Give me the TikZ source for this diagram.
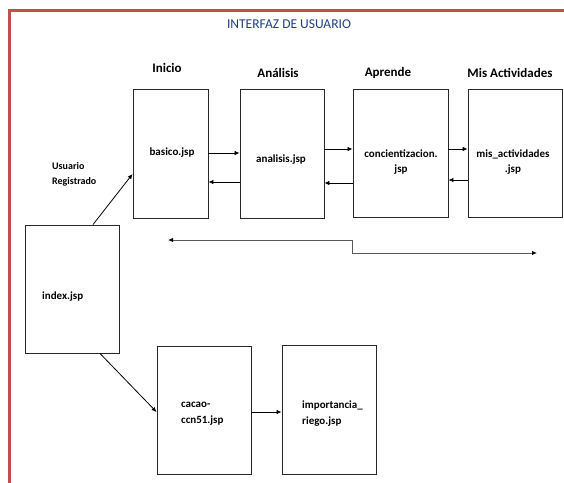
\documentclass[tikz,border=0pt]{standalone}
\usepackage{fontspec}
\setmainfont{Carlito}
\usetikzlibrary{arrows.meta}
\definecolor{frame}{RGB}{192,80,77}
\definecolor{titleblue}{RGB}{34,62,130}
\definecolor{boxline}{RGB}{40,40,40}
\tikzset{
  page/.style={x=1pt,y=-1pt},
  pagebox/.style={draw=boxline,line width=0.9pt,rectangle,inner sep=0pt},
  boxtext/.style={font=\fontsize{11}{15}\selectfont\bfseries,align=center,inner sep=0pt},
  boxtextl/.style={font=\fontsize{11}{16}\selectfont\bfseries,align=left,anchor=west,inner sep=0pt},
  head/.style={font=\fontsize{13}{15}\selectfont\bfseries,inner sep=0pt},
  link/.style={line width=0.8pt,-{Latex[length=5pt,width=4.5pt]}},
  backlink/.style={line width=1pt,draw=black!65,{Latex[length=5pt,width=4.5pt,color=black]}-{Latex[length=5pt,width=4.5pt,color=black]}}
}
\newcommand{\pbox}[5]{\node[pagebox,minimum width=#4pt,minimum height=#5pt] (#1) at (#2,#3) {};}
\begin{document}
\begin{tikzpicture}[page]
\useasboundingbox (0,0) rectangle (564,482);
% frame
\draw[frame,line width=3pt] (9,483) -- (9,10.5) -- (565,10.5);
\node[font=\fontsize{13.5}{15}\selectfont,text=titleblue,inner sep=0pt] (title) at (289,24) {INTERFAZ DE USUARIO};
% headings
\node[head] (hinicio) at (167,68) {Inicio};
\node[head] (hanalisis) at (278,73) {Análisis};
\node[head] (haprende) at (388,73) {Aprende};
\node[head] (hmis) at (510,73) {Mis Actividades};
% boxes
\pbox{basico}{170.5}{153.5}{75}{129}
\pbox{analisis}{282}{153.5}{84}{129}
\pbox{conc}{400.5}{153}{95}{128}
\pbox{mis}{515}{153}{94}{128}
\pbox{index}{72}{289}{94}{128}
\pbox{cacao}{204}{410}{94}{128}
\pbox{imp}{329}{409.5}{94}{129}
% texts
\node[boxtext] (tbasico) at (172,153) {basico.jsp};
\node[boxtext] (tanalisis) at (281,160) {analisis.jsp};
\node[boxtext] (tconc) at (401,162.5) {concientizacion.\\jsp};
\node[boxtext] (tmis) at (513,162.5) {mis\_actividades\\.jsp};
\node[boxtextl] (tindex) at (42,297) {index.jsp};
\node[boxtextl] (tcacao) at (181,414) {cacao-\\ccn51.jsp};
\node[boxtextl] (timp) at (302,414) {importancia\_\\riego.jsp};
\node[font=\fontsize{10}{15}\selectfont\bfseries,align=left,anchor=west,inner sep=0pt] (tuser) at (52,174.5) {Usuario\\Registrado};
% connectors
\draw[link] (index.north -| 93,0) -- (basico.west |- 0,174);
\draw[link] (index.south -| 100,0) -- (cacao.west |- 0,412);
\draw[link] (cacao.east |- 0,412) -- (imp.west |- 0,412);
\draw[link] (basico.east |- 0,153) -- (analisis.west |- 0,153);
\draw[link] (analisis.west |- 0,182) -- (basico.east |- 0,182);
\draw[link] (analisis.east |- 0,149) -- (conc.west |- 0,149);
\draw[link] (conc.west |- 0,183) -- (analisis.east |- 0,183);
\draw[link] (conc.east |- 0,149) -- (mis.west |- 0,149);
\draw[link] (mis.west |- 0,180) -- (conc.east |- 0,180);
\coordinate (backend) at (168,240);
\coordinate (fwdend) at (537,253);
\draw[backlink] (backend) -- (352,240) -- (352,253) -- (fwdend);
\end{tikzpicture}
\end{document}
